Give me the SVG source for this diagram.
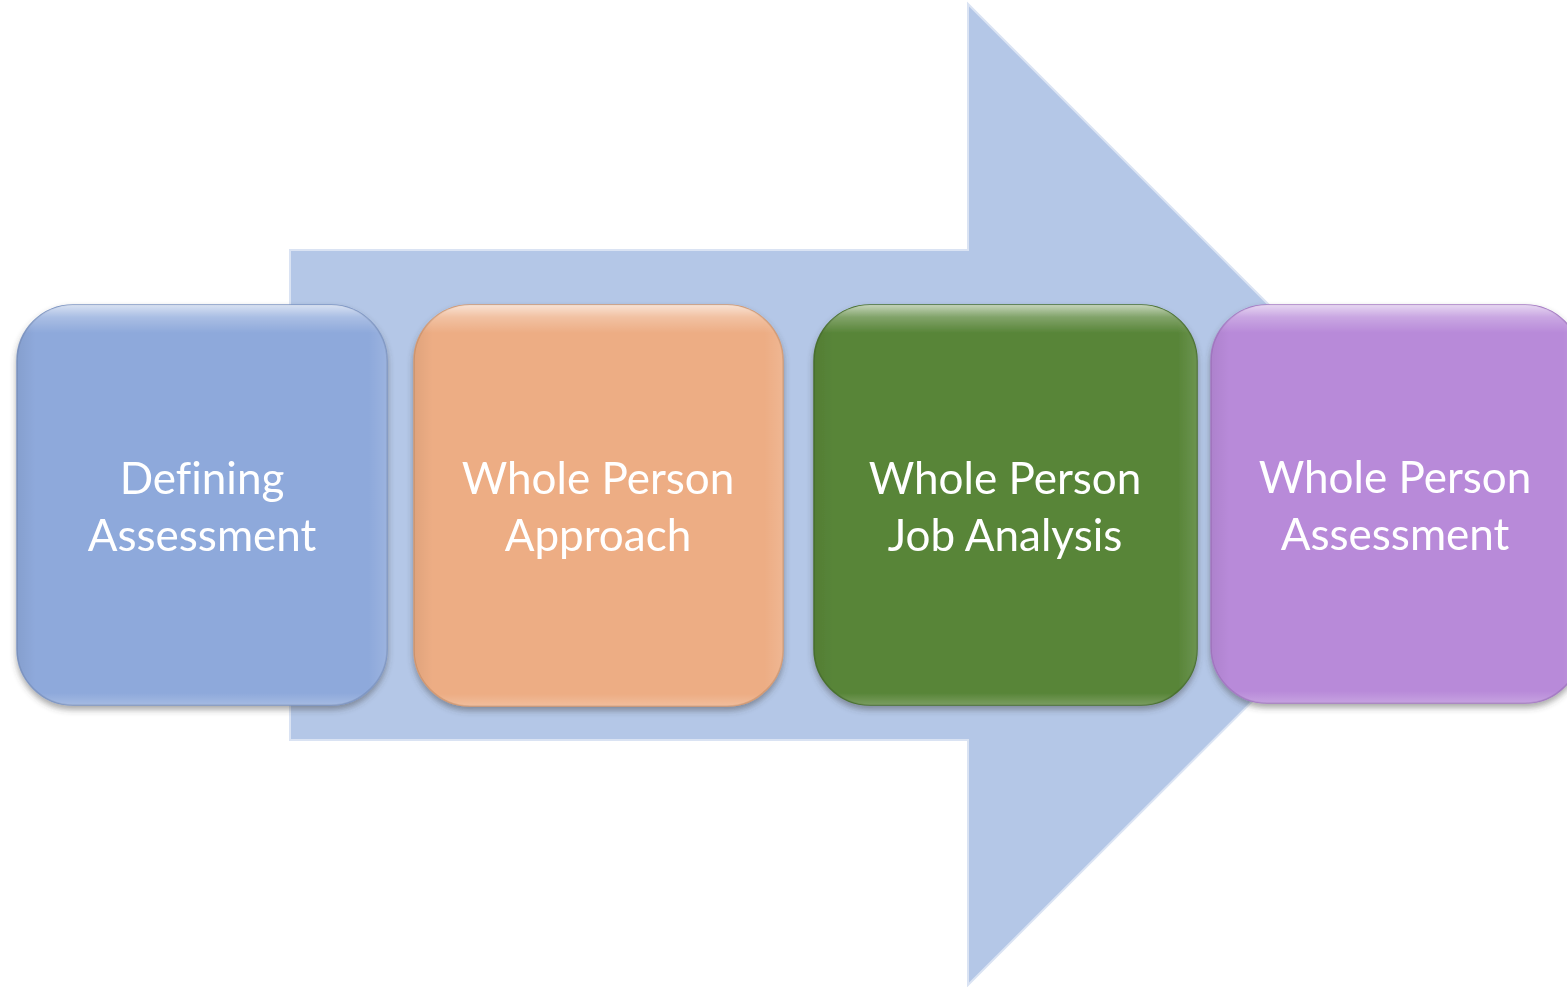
<svg xmlns="http://www.w3.org/2000/svg" width="1567" height="987" viewBox="0 0 1567 987">
<style>
.lbl{font-family:Lato,"Open Sans","Liberation Sans",sans-serif;font-size:44px;fill:#ffffff;text-anchor:middle;font-variant-ligatures:none}
.gloss{fill:url(#gloss)}
.side{fill:url(#side)}
</style>
<defs>
<filter id="sh" x="-10%" y="-10%" width="120%" height="125%">
<feDropShadow dx="0" dy="4" stdDeviation="3" flood-color="#404040" flood-opacity="0.45"/>
</filter>
<linearGradient id="gloss" x1="0" y1="0" x2="0" y2="1">
<stop offset="0" stop-color="#ffffff" stop-opacity="0.65"/>
<stop offset="0.03" stop-color="#ffffff" stop-opacity="0.25"/>
<stop offset="0.07" stop-color="#ffffff" stop-opacity="0"/>
<stop offset="0.97" stop-color="#ffffff" stop-opacity="0"/>
<stop offset="1" stop-color="#ffffff" stop-opacity="0.2"/>
</linearGradient>
<linearGradient id="side" x1="0" y1="0" x2="1" y2="0">
<stop offset="0" stop-color="#000000" stop-opacity="0.06"/>
<stop offset="0.05" stop-color="#000000" stop-opacity="0"/>
<stop offset="0.95" stop-color="#ffffff" stop-opacity="0"/>
<stop offset="1" stop-color="#ffffff" stop-opacity="0.12"/>
</linearGradient>
</defs>
<rect width="1567" height="987" fill="#ffffff"/>
<g id="connectors">
<path id="big-arrow" d="M290,250 L968,250 L968,4 L1459,495 L968,985 L968,740 L290,740 Z" fill="#B4C7E7" stroke="#DAE3F3" stroke-width="2"/>
</g>
<g id="node1" filter="url(#sh)">
<rect x="17" y="305" width="370" height="400" rx="56" fill="#8EA9DB" stroke="#7F97C4" stroke-width="1.5"/>
<rect x="17" y="305" width="370" height="400" rx="56" class="side"/>
<rect x="17" y="305" width="370" height="400" rx="56" class="gloss"/>
<text class="lbl" x="202" y="494">Defining</text>
<text class="lbl" x="202" y="551">Assessment</text>
</g>
<g id="node2" filter="url(#sh)">
<rect x="414" y="305" width="369" height="401" rx="56" fill="#EDAD84" stroke="#D49A73" stroke-width="1.5"/>
<rect x="414" y="305" width="369" height="401" rx="56" class="side"/>
<rect x="414" y="305" width="369" height="401" rx="56" class="gloss"/>
<text class="lbl" x="598" y="494">Whole Person</text>
<text class="lbl" x="598" y="551">Approach</text>
</g>
<g id="node3" filter="url(#sh)">
<rect x="814" y="305" width="383" height="400" rx="56" fill="#588538" stroke="#4A722F" stroke-width="1.5"/>
<rect x="814" y="305" width="383" height="400" rx="56" class="side"/>
<rect x="814" y="305" width="383" height="400" rx="56" class="gloss"/>
<text class="lbl" x="1005" y="494">Whole Person</text>
<text class="lbl" x="1005" y="551">Job Analysis</text>
</g>
<g id="node4" filter="url(#sh)">
<rect x="1211" y="305" width="370" height="398" rx="56" fill="#B88AD9" stroke="#A57AC4" stroke-width="1.5"/>
<rect x="1211" y="305" width="370" height="398" rx="56" class="side"/>
<rect x="1211" y="305" width="370" height="398" rx="56" class="gloss"/>
<text class="lbl" x="1395" y="493">Whole Person</text>
<text class="lbl" x="1395" y="550">Assessment</text>
</g>
</svg>
